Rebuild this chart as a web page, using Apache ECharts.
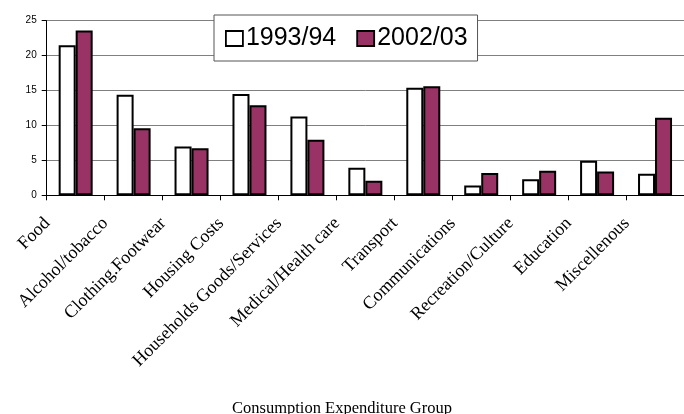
<!DOCTYPE html>
<html>
<head>
<meta charset="utf-8">
<script src="https://cdn.jsdelivr.net/npm/echarts@6/dist/echarts.min.js"></script>
<style>html,body{margin:0;padding:0;background:#fff;}#c{width:684px;height:414px;}</style>
</head>
<body>
<div id="c"></div>
<script>
const categories = ['Food','Alcohol/tobacco','Clothing.Footwear','Housing Costs','Households Goods/Services','Medical/Health care','Transport','Communications','Recreation/Culture','Education','Miscellenous'];
const values1993 = [21.5, 14.4, 7.0, 14.5, 11.3, 3.95, 15.4, 1.4, 2.3, 4.95, 3.1];
const values2002 = [23.6, 9.6, 6.75, 12.9, 7.95, 2.1, 15.6, 3.2, 3.5, 3.4, 11.1];
const seriesNames = ['1993/94', '2002/03'];
const yTicks = [0, 5, 10, 15, 20, 25];
const xTitle = 'Consumption Expenditure Group';

const chart = echarts.init(document.getElementById('c'), null, {renderer: 'canvas'});
chart.setOption({
  animation: false,
  backgroundColor: '#fff',
  title: {
    text: xTitle, left: 'center', top: 395,
    textStyle: {fontFamily: 'Liberation Serif', fontSize: 16.5, fontWeight: 'normal', color: '#000'}
  },
  legend: {
    left: 214, top: 15,
    padding: [11, 10, 10, 11],
    itemGap: 20,
    itemWidth: 17, itemHeight: 15,
    icon: 'rect',
    backgroundColor: '#fff',
    borderColor: '#555', borderWidth: 1,
    textStyle: {fontFamily: 'Liberation Sans', fontSize: 25, color: '#000', padding: [0, 0, 0, -2]},
    itemStyle: {borderColor: '#000', borderWidth: 1.8},
    data: seriesNames
  },
  grid: {left: 46.7, top: 20.7, right: -9.5, bottom: 218.7, containLabel: false},
  xAxis: {
    type: 'category', data: categories,
    axisLine: {lineStyle: {color: '#000', width: 1}},
    axisTick: {show: true, length: 5, lineStyle: {color: '#000'}},
    axisLabel: {
      interval: 0, rotate: 45, margin: -3,
      fontFamily: 'Liberation Serif', fontSize: 18, color: '#000',
      padding: [0, 40, 0, 0]
    }
  },
  yAxis: {
    type: 'value', min: 0, max: 25, interval: 5,
    axisLine: {show: true, lineStyle: {color: '#000', width: 1}},
    axisTick: {show: true, length: 5, lineStyle: {color: '#000'}},
    axisLabel: {
      margin: 10, fontFamily: 'Liberation Sans', fontSize: 10, color: '#000',
      formatter: v => yTicks.includes(v) ? String(v) : ''
    },
    splitLine: {show: true, lineStyle: {color: '#808080', width: 1}}
  },
  series: [
    {name: seriesNames[0], type: 'bar', data: values1993, barWidth: 17, barGap: '0%',
     itemStyle: {color: '#ffffff', borderColor: '#000', borderWidth: 2}},
    {name: seriesNames[1], type: 'bar', data: values2002, barWidth: 17, barGap: '0%',
     itemStyle: {color: '#993366', borderColor: '#000', borderWidth: 2}}
  ]
});
</script>
</body>
</html>
